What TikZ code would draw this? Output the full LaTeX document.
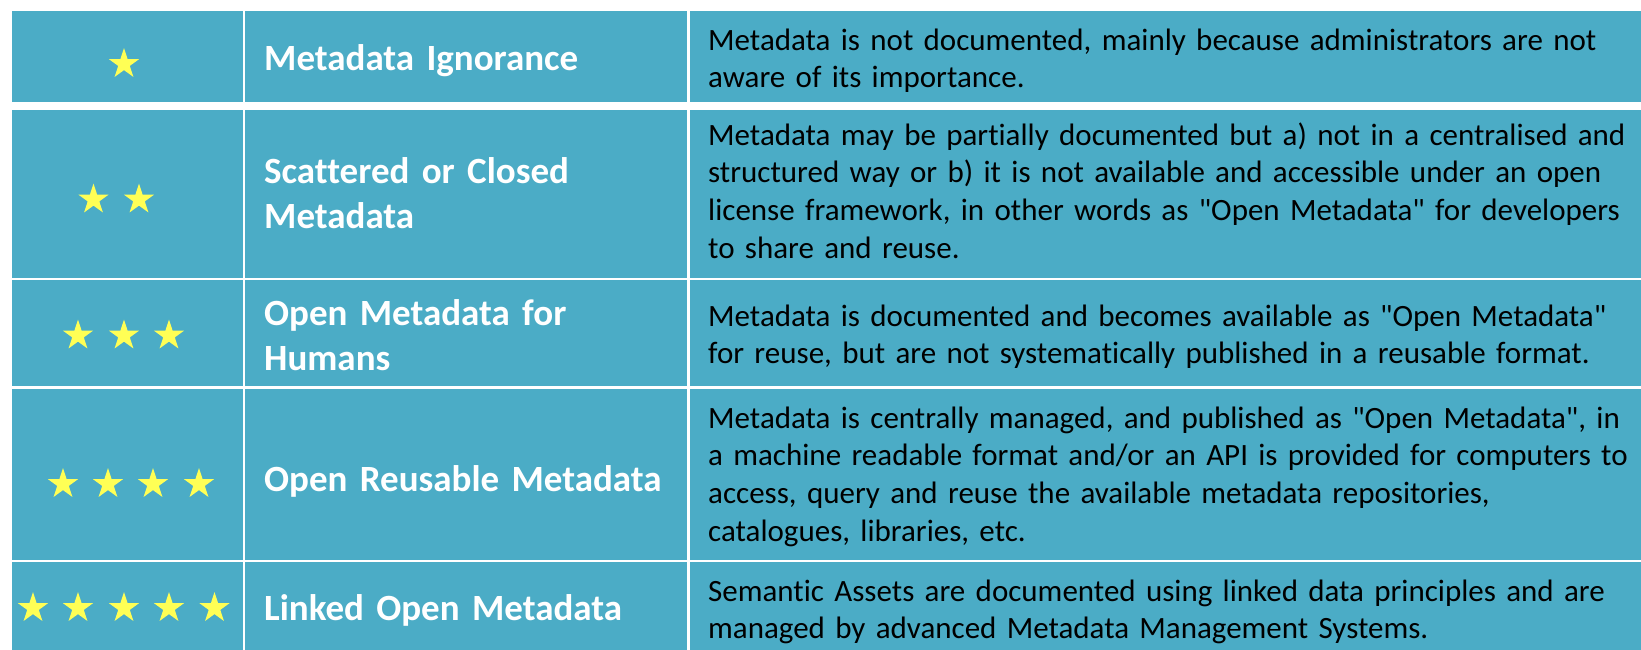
\documentclass[tikz,border=0pt]{standalone}
\usepackage{fontspec}
\setmainfont{Carlito}[Ligatures={NoCommon}]
\usetikzlibrary{shapes.geometric}
\definecolor{tblue}{RGB}{75,172,198}
\definecolor{starY}{RGB}{255,255,85}
\newcommand{\sq}{\textquotedbl}
\begin{document}
\begin{tikzpicture}[x=1pt,y=-1pt,
  cell/.style={fill=tblue},
  title/.style={anchor=base west, inner sep=0pt, text width=420pt, align=left,
    font=\fontsize{37}{45}\selectfont\bfseries, text=white},
  desc/.style={anchor=base west, inner sep=0pt, text width=930pt, align=left,
    font=\fontsize{31}{37.8}\selectfont, text=black},
  starnode/.style={star, star points=5, star point ratio=2.618, minimum size=32pt,
    inner sep=0pt, fill=starY, draw=none}]
\useasboundingbox (0,0) rectangle (1641,649);
\clip (0,0) rectangle (1641,649);
\fill[white] (0,0) rectangle (1641,649);
% rows: 11-102, 110-278, 280-386, 388.5-559.5, 561.5-...
\foreach \ya/\yb in {11/102,110/278,280/386,388.5/559.5,561.5/670}{
  \fill[cell] (11.5,\ya) rectangle (242.5,\yb);
  \fill[cell] (245,\ya) rectangle (687,\yb);
  \fill[cell] (689.5,\ya) rectangle (1660,\yb);
}
% stars
\node[starnode] (s11) at (124,64) {};
\node[starnode] (s21) at (93.5,199.5) {};
\node[starnode] (s22) at (139,199.5) {};
\node[starnode] (s31) at (78,335.5) {};
\node[starnode] (s32) at (124,335.5) {};
\node[starnode] (s33) at (169,335.5) {};
\node[starnode] (s41) at (63,484) {};
\node[starnode] (s42) at (108,484) {};
\node[starnode] (s43) at (153,484) {};
\node[starnode] (s44) at (199,484) {};
\node[starnode] (s51) at (33,608) {};
\node[starnode] (s52) at (78,608) {};
\node[starnode] (s53) at (124,608) {};
\node[starnode] (s54) at (169,608) {};
\node[starnode] (s55) at (214.5,608) {};
% titles
\node[title] (t1) at (264,70.7) {Metadata Ignorance};
\node[title] (t2) at (264,183.3) {Scattered or Closed\\Metadata};
\node[title] (t3) at (264,325) {Open Metadata for\\Humans};
\node[title] (t4) at (264,491.7) {Open Reusable Metadata};
\node[title] (t5) at (264,620) {Linked Open Metadata};
% descriptions
\node[desc] (d1) at (708,50) {Metadata is not documented, mainly because administrators are not\\aware of its importance.};
\node[desc] (d2) at (708,145) {Metadata may be partially documented but a) not in a centralised and\\structured way or b) it is not available and accessible under an open\\license framework, in other words as \sq Open Metadata\sq{} for developers\\to share and reuse.};
\node[desc] (d3) at (708,326) {Metadata is documented and becomes available as \sq Open Metadata\sq\\for reuse, but are not systematically published in a reusable format.};
\node[desc] (d4) at (708,428) {Metadata is centrally managed, and published as \sq Open Metadata\sq, in\\a machine readable format and/or an API is provided for computers to\\access, query and reuse the available metadata repositories,\\catalogues, libraries, etc.};
\node[desc] (d5) at (708,601) {Semantic Assets are documented using linked data principles and are\\managed by advanced Metadata Management Systems.};
\end{tikzpicture}
\end{document}
